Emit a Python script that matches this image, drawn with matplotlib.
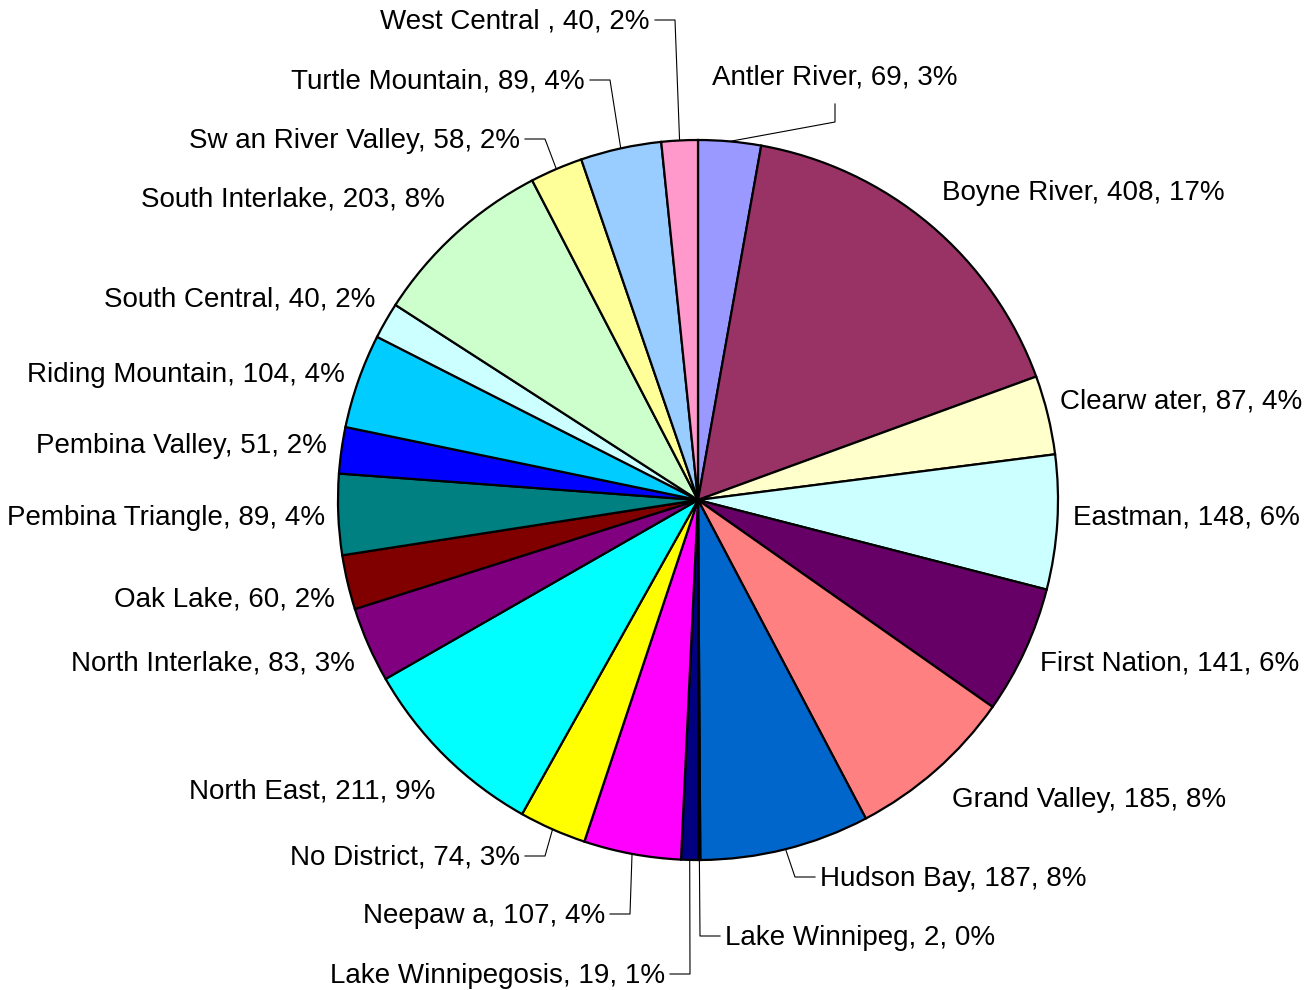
import numpy as np
import matplotlib.pyplot as plt

# Districts, clockwise from 12 o'clock
names = ["Antler River", "Boyne River", "Clearw ater", "Eastman", "First Nation",
         "Grand Valley", "Hudson Bay", "Lake Winnipeg", "Lake Winnipegosis",
         "Neepaw a", "No District", "North East", "North Interlake", "Oak Lake",
         "Pembina Triangle", "Pembina Valley", "Riding Mountain", "South Central",
         "South Interlake", "Sw an River Valley", "Turtle Mountain", "West Central "]
values = [69, 408, 87, 148, 141, 185, 187, 2, 19, 107, 74, 211, 83, 60,
          89, 51, 104, 40, 203, 58, 89, 40]
colors = ["#9999FF", "#993366", "#FFFFCC", "#CCFFFF", "#660066", "#FF8080",
          "#0066CC", "#CCCCFF", "#000080", "#FF00FF", "#FFFF00", "#00FFFF",
          "#800080", "#800000", "#008080", "#0000FF", "#00CCFF", "#CCFFFF",
          "#CCFFCC", "#FFFF99", "#99CCFF", "#FF99CC"]

# label layout in pixels: (x edge, y centre, side, leader)
layout = [(712, 75, "left", "v"), (942, 191, "left", None), (1060, 400, "left", None),
          (1073, 516, "left", None), (1040, 661, "left", None), (952, 798, "left", None),
          (820, 877, "left", "h"), (725, 936, "left", "h"), (665, 974, "right", "h"),
          (605, 914, "right", "h"), (520, 856, "right", "h"), (435, 790, "right", None),
          (355, 661, "right", None), (335, 597, "right", None), (325, 516, "right", None),
          (327, 444, "right", None), (345, 373, "right", None), (375, 297, "right", None),
          (445, 198, "right", None), (520, 139, "right", "h"), (585, 80, "right", "h"),
          (650, 20, "right", "h")]

W, H = 1308, 990
cx, cy, R = 698, 500, 360

fig = plt.figure(figsize=(W / 100, H / 100), dpi=100)
ax = fig.add_axes([0, 0, 1, 1])
ax.pie(values, colors=colors, startangle=90, counterclock=False,
       center=(cx, H - cy), radius=R,
       wedgeprops=dict(edgecolor="black", linewidth=1.6))
ax.set_xlim(0, W)
ax.set_ylim(0, H)
ax.set_aspect("equal")
ax.axis("off")

total = sum(values)
cum = np.cumsum([0] + values)
for i, (name, v) in enumerate(zip(names, values)):
    pct = round(v / total * 100)
    x, y, side, leader = layout[i]
    ax.text(x, H - y - 2, f"{name}, {v}, {pct}%", ha=side, va="center",
            fontsize=20, family="Liberation Sans")
    if leader is None:
        continue
    mid = (cum[i] + v / 2) / total * 2 * np.pi
    px, py = cx + R * np.sin(mid), cy - R * np.cos(mid)
    if leader == "h":
        d = 1 if side == "right" else -1
        xs = [x + d * 5, x + d * 25, px]
        ys = [y, y, py]
    else:
        xs = [x + 123, x + 123, px]
        ys = [y + 29, y + 47, py]
    ax.plot(xs, [H - q for q in ys], color="black", lw=0.8)

fig.savefig("out.png", dpi=100)
